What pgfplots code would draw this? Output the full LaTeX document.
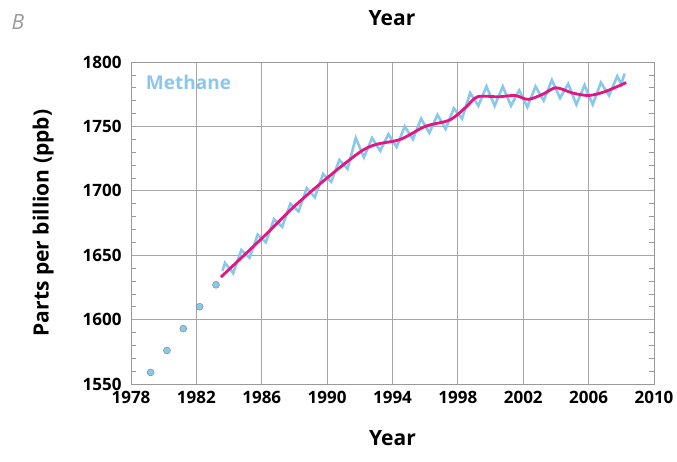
\documentclass[border=0pt]{standalone}
\usepackage{pgfplots}
\pgfplotsset{compat=1.18}
\usepackage{fontspec}
\setmainfont{Open Sans}
\definecolor{sky}{RGB}{135,200,235}
\definecolor{mag}{RGB}{230,20,130}
\begin{document}
\begin{tikzpicture}[x=1pt,y=1pt]
\path[use as bounding box] (0,0) rectangle (677,461);
\node[text=gray!80,font=\itshape\fontsize{21}{21}\selectfont,anchor=west] at (8,439) {B};
\node[font=\bfseries\fontsize{21}{21}\selectfont] at (392,443) {Year};
\begin{axis}[at={(131pt,77pt)},anchor=south west,scale only axis,width=523pt,height=322pt,
  xmin=1978,xmax=2010,ymin=1550,ymax=1800,
  xtick={1978,1982,...,2010},ytick={1550,1600,...,1800},
  minor x tick num=3,minor y tick num=4,
  grid=major,major grid style={gray!70,line width=0.8pt},
  axis line style={gray!80,line width=0.8pt},
  tick style={gray!80,line width=0.6pt},tick align=inside,
  major tick length=0pt,minor tick length=5pt,
  xticklabel style={/pgf/number format/1000 sep={},yshift=-4pt},
  yticklabel style={/pgf/number format/1000 sep={},xshift=-6pt},
  /pgf/number format/assume math mode=true,
  ticklabel style={font=\bfseries\fontsize{17}{17}\selectfont},
  xlabel={Year},ylabel={Parts per billion (ppb)},
  label style={font=\bfseries\fontsize{21}{21}\selectfont},
  xlabel style={yshift=-20pt},ylabel style={yshift=22pt}]
\addplot[only marks,mark=*,mark size=3.5pt,mark options={fill=sky,draw=gray}] coordinates {
(1979.2,1559)(1980.2,1576)(1981.2,1593)(1982.2,1610)(1983.2,1627)};
\addplot[sky,line width=2.6pt] coordinates {
(1983.6,1638)(1983.75,1644)(1984.25,1636)(1984.75,1654)(1985.25,1648)(1985.75,1666)(1986.25,1660)(1986.75,1678)(1987.25,1672)(1987.75,1690)(1988.25,1684)(1988.75,1702)(1989.25,1695)(1989.75,1713)(1990.25,1707)(1990.75,1724)(1991.25,1717)(1991.75,1741)(1992.25,1726)(1992.75,1741)(1993.25,1731)(1993.75,1744)(1994.25,1734)(1994.75,1750)(1995.25,1740)(1995.75,1756)(1996.25,1745)(1996.75,1759)(1997.25,1748)(1997.75,1764)(1998.25,1756)(1998.75,1776)(1999.25,1766)(1999.75,1781)(2000.25,1766)(2000.75,1781)(2001.25,1766)(2001.75,1778)(2002.25,1765)(2002.75,1781)(2003.25,1770)(2003.75,1786)(2004.25,1772)(2004.75,1783)(2005.25,1767)(2005.75,1782)(2006.25,1767)(2006.75,1784)(2007.25,1774)(2007.75,1789)(2008.0,1783)(2008.2,1791)};
\addplot[mag,line width=2.8pt,smooth] coordinates {
(1983.5,1633)(1986,1663)(1988,1688)(1990,1710)(1992,1730)(1993,1736)(1994.5,1740)(1996,1750)(1997.5,1755)(1998.5,1765)(1999.2,1773)(2000.5,1773)(2001.5,1774)(2002.3,1771)(2003.2,1775)(2004,1780)(2005,1776)(2006,1774)(2007,1777)(2008.3,1784)};
\node[text=sky,font=\bfseries\fontsize{19}{19}\selectfont,anchor=west] at (axis cs:1978.7,1784) {Methane};
\end{axis}
\end{tikzpicture}
\end{document}
